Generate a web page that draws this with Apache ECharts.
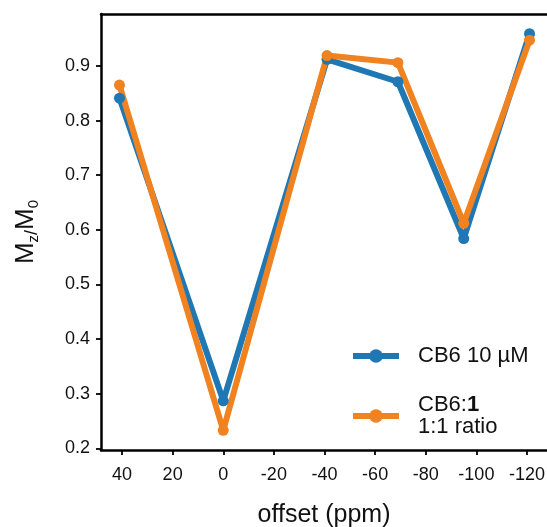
<!DOCTYPE html>
<html>
<head>
<meta charset="utf-8">
<script src="https://cdn.jsdelivr.net/npm/echarts@6/dist/echarts.min.js"></script>
<style>html,body{margin:0;padding:0;background:#fff}#c{width:547px;height:527px}</style>
</head>
<body>
<div id="c"></div>
<script>
var offsets = [41, 0, -41, -69, -95, -121];
var cb6 = [0.841, 0.287, 0.912, 0.871, 0.584, 0.959];
var cb6Ratio = [0.865, 0.233, 0.919, 0.906, 0.612, 0.947];
var xTicks = [40, 20, 0, -20, -40, -60, -80, -100, -120];
var yTicks = [0.2, 0.3, 0.4, 0.5, 0.6, 0.7, 0.8, 0.9];
var seriesNames = ['CB6 10 µM', 'CB6:1 1:1 ratio'];

function pairs(xs, ys) { return xs.map(function (x, i) { return [x, ys[i]]; }); }

var FONT = '"Liberation Sans", Arial, sans-serif';
var INK = '#111';
var chart = echarts.init(document.getElementById('c'), null, {renderer: 'canvas'});
chart.setOption({
  animation: false,
  backgroundColor: '#fff',
  grid: {left: 101, right: 0, top: 14, bottom: 77, outerBoundsMode: 'none', containLabel: false},
  xAxis: [{
    type: 'value', inverse: true, min: -127.9, max: 48.3,
    name: 'offset (ppm)', nameLocation: 'middle', nameGap: 53,
    nameTextStyle: {fontSize: 25, fontFamily: FONT, color: INK},
    axisLine: {show: true, onZero: false, lineStyle: {color: '#000', width: 2.5}},
    axisTick: {show: true, length: 5, inside: false, customValues: xTicks, lineStyle: {color: '#000', width: 1.8}},
    axisLabel: {customValues: xTicks, fontSize: 18, fontFamily: FONT, color: INK, margin: 16},
    splitLine: {show: false}
  }, {
    type: 'value', position: 'top', inverse: true, min: -127.9, max: 48.3,
    axisLine: {show: true, onZero: false, lineStyle: {color: '#000', width: 2.5}},
    axisTick: {show: false}, axisLabel: {show: false}, splitLine: {show: false}
  }],
  yAxis: {
    type: 'value', min: 0.197, max: 0.995,
    name: '{m|M}{s|z}{k|/}{m|M}{s|0}', nameLocation: 'middle', nameRotate: 90, nameGap: 60,
    nameTextStyle: {
      fontFamily: FONT, color: INK,
      rich: {
        m: {fontSize: 26, lineHeight: 30, fontFamily: FONT, color: INK},
        k: {fontSize: 18, lineHeight: 30, fontFamily: FONT, color: INK, verticalAlign: 'bottom'},
        s: {fontSize: 15, lineHeight: 15, fontFamily: FONT, color: INK, verticalAlign: 'bottom', padding: [7, 0, 0, 0]}
      }
    },
    axisLine: {show: true, onZero: false, lineStyle: {color: '#000', width: 2.5}},
    axisTick: {show: true, length: 5, customValues: yTicks, lineStyle: {color: '#000', width: 1.8}},
    axisLabel: {customValues: yTicks, fontSize: 18, fontFamily: FONT, color: INK, margin: 11},
    splitLine: {show: false}
  },
  legend: {
    orient: 'vertical', left: 350, top: 345, padding: 0, itemGap: 27,
    itemWidth: 46, itemHeight: 17, selectedMode: false,
    data: seriesNames,
    lineStyle: {width: 6},
    formatter: function (name) {
      if (name === seriesNames[1]) return '{n|CB6:}{b|1}\n{n|1:1 ratio}';
      return '{n|' + name + '}';
    },
    textStyle: {
      fontSize: 22, lineHeight: 22, fontFamily: FONT, color: INK, padding: [0, 0, 0, 14],
      rich: {
        n: {fontSize: 22, lineHeight: 22, fontFamily: FONT, color: INK},
        b: {fontSize: 22, lineHeight: 22, fontFamily: FONT, color: INK, fontWeight: 'bold'}
      }
    }
  },
  series: [{
    name: seriesNames[0], type: 'line', data: pairs(offsets, cb6),
    symbol: 'circle', symbolSize: 11, showSymbol: true,
    lineStyle: {color: '#1f77b4', width: 6}, itemStyle: {color: '#1f77b4'}
  }, {
    name: seriesNames[1], type: 'line', data: pairs(offsets, cb6Ratio),
    symbol: 'circle', symbolSize: 11, showSymbol: true,
    lineStyle: {color: '#f08220', width: 6}, itemStyle: {color: '#f08220'}
  }]
});
</script>
</body>
</html>
